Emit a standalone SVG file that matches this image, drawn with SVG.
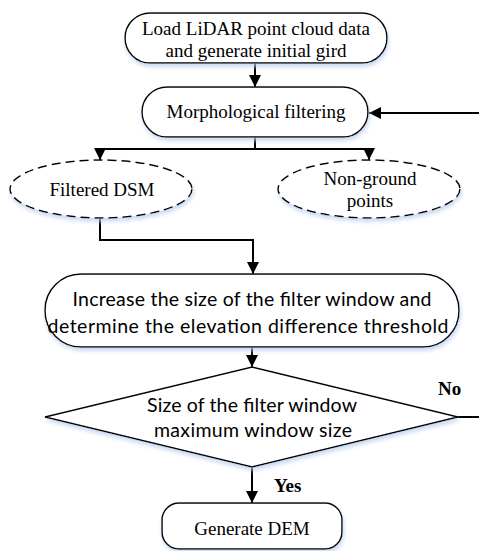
<svg xmlns="http://www.w3.org/2000/svg" width="479" height="551" viewBox="0 0 479 551">
<style>
.shape{fill:#fff;stroke:#000;stroke-width:1.5}
.dash{stroke-dasharray:9 5}
.conn{fill:none;stroke:#000;stroke-width:2}
.serif{font-family:"Liberation Serif","Times New Roman",serif;font-size:19px;fill:#000;text-anchor:middle}
.sans{font-family:Lato,"Liberation Sans",sans-serif;font-size:19.5px;fill:#000;text-anchor:middle}
.bold{font-family:"Liberation Serif","Times New Roman",serif;font-size:19px;font-weight:bold;fill:#000}
</style>
<defs>
<filter id="sh" x="-10%" y="-20%" width="120%" height="150%">
<feGaussianBlur in="SourceAlpha" stdDeviation="2"/>
<feOffset dx="1" dy="3" result="b"/>
<feFlood flood-color="#b9d0ee" flood-opacity="0.8"/>
<feComposite in2="b" operator="in"/>
<feMerge><feMergeNode/><feMergeNode in="SourceGraphic"/></feMerge>
</filter>
<marker id="ah" markerUnits="userSpaceOnUse" viewBox="0 0 12 12" markerWidth="12" markerHeight="12" refX="12" refY="6" orient="auto">
<path d="M0,0 L12,6 L0,12 z" fill="#000"/>
</marker>
</defs>
<rect width="479" height="551" fill="#fff"/>
<g id="connectors">
<path class="conn" d="M255,63 V87" marker-end="url(#ah)"/>
<path class="conn" d="M255,137 V149 M100,149 H369"/>
<path class="conn" d="M100,149 V160" marker-end="url(#ah)"/>
<path class="conn" d="M369,149 V160" marker-end="url(#ah)"/>
<path class="conn" d="M100,218 V240 H253 V274" marker-end="url(#ah)"/>
<path class="conn" d="M252,347 V367" marker-end="url(#ah)"/>
<path class="conn" d="M252,467 V503" marker-end="url(#ah)"/>
<path class="conn" d="M458,417 H479"/>
<path class="conn" d="M479,113 H369" marker-end="url(#ah)"/>
<text class="bold" x="438" y="395">No</text>
<text class="bold" x="274" y="492">Yes</text>
</g>
<g id="load">
<rect class="shape" filter="url(#sh)" x="125" y="13" width="262" height="50" rx="25"/>
<text class="serif" x="256" y="35">Load LiDAR point cloud data</text>
<text class="serif" x="256" y="57">and generate initial gird</text>
</g>
<g id="morph">
<rect class="shape" filter="url(#sh)" x="142" y="87" width="226" height="50" rx="25"/>
<text class="serif" x="256" y="118">Morphological filtering</text>
</g>
<g id="dsm">
<ellipse class="shape dash" filter="url(#sh)" cx="101" cy="189" rx="91" ry="29"/>
<text class="serif" x="102" y="196">Filtered DSM</text>
</g>
<g id="nonground">
<ellipse class="shape dash" filter="url(#sh)" cx="369" cy="189" rx="91" ry="29"/>
<text class="serif" x="370" y="185">Non-ground</text>
<text class="serif" x="370" y="207">points</text>
</g>
<g id="increase">
<rect class="shape" filter="url(#sh)" x="45" y="274" width="414" height="73" rx="36"/>
<text class="sans" x="252" y="306" textLength="359" lengthAdjust="spacing">Increase the size of the filter window and</text>
<text class="sans" x="248" y="333" textLength="401" lengthAdjust="spacing">determine the elevation difference threshold</text>
</g>
<g id="decision">
<polygon class="shape" filter="url(#sh)" points="252,367 458,417 252,467 45,417"/>
<text class="sans" x="252" y="412" textLength="210" lengthAdjust="spacing">Size of the filter window</text>
<text class="sans" x="253" y="437" textLength="198" lengthAdjust="spacing">maximum window size</text>
</g>
<g id="dem">
<rect class="shape" filter="url(#sh)" x="162" y="503" width="180" height="46" rx="17"/>
<text class="serif" x="252" y="535">Generate DEM</text>
</g>
</svg>
